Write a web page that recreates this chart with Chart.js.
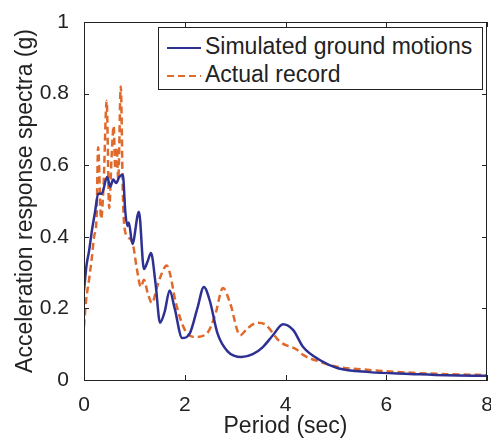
<!DOCTYPE html>
<html lang="en">
<head>
    <meta charset="UTF-8">
    <title>Acceleration response spectra</title>
    <script src="https://cdn.jsdelivr.net/npm/chart.js"></script>
    <style>
        body { margin: 0; background: #fff; }
        #wrap { position: relative; width: 491px; height: 440px; }
        #legend {
            position: absolute; left: 158px; top: 27px; width: 325px; height: 63px;
            box-sizing: border-box; border: 1px solid #222; background: #fff;
            font-family: "Liberation Sans", Arial, sans-serif; font-size: 23px; color: #222;
        }
        .row { position: absolute; left: 8px; height: 28px; line-height: 28px; white-space: nowrap; }
        .row svg { vertical-align: middle; margin-right: 4px; }
    </style>
</head>
<body>
    <div id="wrap">
        <canvas id="spectraChart" width="491" height="440"></canvas>
        <div id="legend"></div>
    </div>

    <script>
        // series: period (sec) and spectral acceleration (g)
        const simPeriods = [0, 0.05, 0.1, 0.16, 0.22, 0.28, 0.35, 0.46, 0.52, 0.58,
            0.64, 0.7, 0.77, 0.82, 0.86, 0.89, 0.96, 1.09, 1.19, 1.26,
            1.33, 1.42, 1.51, 1.6, 1.7, 1.8, 1.95, 2.1, 2.25, 2.38,
            2.5, 2.65, 2.85, 3.13, 3.35, 3.55, 3.75, 3.95, 4.15, 4.35,
            4.68, 5.04, 5.67, 6.47, 7.2, 8.0];
        const simAccel = [0.25, 0.32, 0.36, 0.42, 0.47, 0.52, 0.52, 0.567, 0.54, 0.56,
            0.55, 0.567, 0.573, 0.47, 0.43, 0.44, 0.38, 0.47, 0.31, 0.33,
            0.355, 0.27, 0.16, 0.19, 0.25, 0.2, 0.117, 0.13, 0.2, 0.26,
            0.22, 0.13, 0.08, 0.064, 0.072, 0.092, 0.125, 0.156, 0.14, 0.092,
            0.056, 0.033, 0.022, 0.017, 0.013, 0.012];

        const recPeriods = [0, 0.04, 0.1, 0.15, 0.2, 0.25, 0.28, 0.34, 0.39, 0.45,
            0.5, 0.55, 0.59, 0.62, 0.65, 0.68, 0.73, 0.77, 0.8, 0.87,
            0.97, 1.05, 1.13, 1.19, 1.27, 1.35, 1.45, 1.55, 1.64, 1.72,
            1.8, 1.94, 2.05, 2.2, 2.44, 2.6, 2.76, 2.9, 3.1, 3.25,
            3.45, 3.6, 3.89, 4.22, 4.35, 4.7, 5.02, 5.67, 6.53, 7.3,
            8.0];
        const recAccel = [0.15, 0.22, 0.28, 0.335, 0.40, 0.455, 0.65, 0.45, 0.55, 0.78,
            0.48, 0.63, 0.71, 0.59, 0.65, 0.56, 0.82, 0.53, 0.43, 0.40,
            0.38, 0.31, 0.26, 0.28, 0.24, 0.215, 0.26, 0.3, 0.32, 0.29,
            0.23, 0.16, 0.13, 0.12, 0.13, 0.18, 0.257, 0.215, 0.125, 0.145,
            0.16, 0.155, 0.107, 0.085, 0.07, 0.05, 0.037, 0.028, 0.02, 0.016,
            0.014];

        const xTicks = [0, 2, 4, 6, 8];
        const yTicks = [0, 0.2, 0.4, 0.6, 0.8, 1];
        const yTickLabels = ['0', '0.2', '0.4', '0.6', '0.8', '1'];

        const font = '"Liberation Sans", Arial, sans-serif';
        const ink = '#222';

        function toPoints(xs, ys) {
            return xs.map((x, i) => ({ x: x, y: ys[i] }));
        }

        // matlab style box with ticks pointing inwards
        const boxTicks = {
            id: 'boxTicks',
            afterDraw(chart) {
                const { ctx, chartArea: a, scales } = chart;
                const len = 5;
                ctx.save();
                ctx.strokeStyle = ink;
                ctx.lineWidth = 1;
                ctx.strokeRect(a.left + 0.5, a.top + 0.5, a.right - a.left - 1, a.bottom - a.top);
                ctx.beginPath();
                xTicks.forEach(v => {
                    const px = Math.round(scales.x.getPixelForValue(v)) + 0.5;
                    ctx.moveTo(px, a.bottom); ctx.lineTo(px, a.bottom - len);
                    ctx.moveTo(px, a.top); ctx.lineTo(px, a.top + len);
                });
                yTicks.forEach(v => {
                    const py = Math.round(scales.y.getPixelForValue(v)) + 0.5;
                    ctx.moveTo(a.left, py); ctx.lineTo(a.left + len, py);
                    ctx.moveTo(a.right, py); ctx.lineTo(a.right - len, py);
                });
                ctx.stroke();
                ctx.restore();
            }
        };

        const ctx = document.getElementById('spectraChart').getContext('2d');
        const chart = new Chart(ctx, {
            type: 'line',
            data: {
                datasets: [{
                    label: 'Simulated ground motions',
                    data: toPoints(simPeriods, simAccel),
                    borderColor: '#2e3192',
                    borderWidth: 2.5,
                    pointRadius: 0,
                    cubicInterpolationMode: 'monotone'
                }, {
                    label: 'Actual record',
                    data: toPoints(recPeriods, recAccel),
                    borderColor: '#e06a2c',
                    borderWidth: 2.5,
                    borderDash: [7, 4],
                    pointRadius: 0,
                    cubicInterpolationMode: 'monotone'
                }]
            },
            options: {
                responsive: false,
                animation: false,
                layout: { padding: { top: 22, right: 4 } },
                plugins: {
                    legend: { display: false },
                    tooltip: { enabled: false }
                },
                scales: {
                    x: {
                        type: 'linear',
                        min: 0,
                        max: 8,
                        // let the last label run to the canvas edge like the original
                        afterFit: s => { s.height = 60; s.paddingRight = 0; s.paddingLeft = 0; },
                        afterBuildTicks: s => { s.ticks = xTicks.map(v => ({ value: v })); },
                        grid: { display: false },
                        border: { display: true, color: ink, width: 1 },
                        ticks: { color: ink, padding: 5, font: { family: font, size: 21 } },
                        title: {
                            display: true,
                            text: 'Period (sec)',
                            color: ink,
                            padding: { top: 0, bottom: 0 },
                            font: { family: font, size: 23 }
                        }
                    },
                    y: {
                        min: 0,
                        max: 1,
                        afterFit: s => { s.width = 84; },
                        afterBuildTicks: s => { s.ticks = yTicks.map(v => ({ value: v })); },
                        grid: { display: false },
                        border: { display: true, color: ink, width: 1 },
                        ticks: {
                            color: ink,
                            padding: 7,
                            font: { family: font, size: 21 },
                            callback: (v, i) => yTickLabels[i]
                        },
                        title: {
                            display: true,
                            text: 'Acceleration response spectra (g)',
                            color: ink,
                            padding: { top: 12, bottom: 0 },
                            font: { family: font, size: 23 }
                        }
                    }
                }
            },
            plugins: [boxTicks]
        });

        // legend drawn as html, built from the datasets
        const legend = document.getElementById('legend');
        chart.data.datasets.forEach((ds, i) => {
            const row = document.createElement('div');
            row.className = 'row';
            row.style.top = (4 + i * 28) + 'px';
            const dash = ds.borderDash ? ds.borderDash.join(' ') : 'none';
            row.innerHTML = '<svg width="34" height="4"><line x1="0" y1="2" x2="34" y2="2" stroke="' +
                ds.borderColor + '" stroke-width="2" stroke-dasharray="' + dash + '"/></svg>' + ds.label;
            legend.appendChild(row);
        });
    </script>
</body>
</html>
